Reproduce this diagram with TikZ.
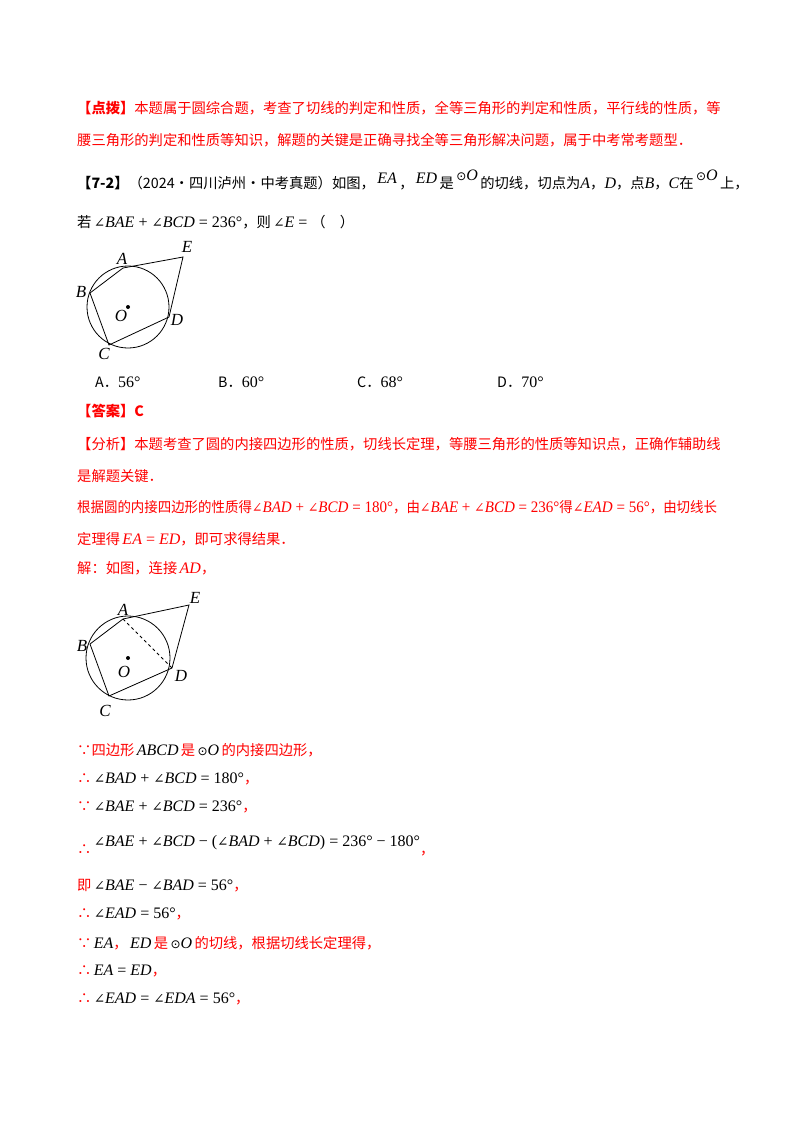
\documentclass[tikz,border=0pt]{standalone}
\usepackage{fontspec}
\usepackage{graphicx}
\setmainfont{Noto Sans CJK SC}
\newfontfamily\tm{Liberation Serif}
\newfontfamily\djv{DejaVu Serif}
\newfontfamily\djs{DejaVu Sans}
\newcommand\ang{{\djv\fontsize{13.5}{13.5}\selectfont ∠}}
\newcommand\mi[1]{{\tm\itshape\fontsize{16}{16}\selectfont #1}}
\newcommand\mr[1]{{\tm\fontsize{16}{16}\selectfont #1}}
\newcommand\circO{{\djs\fontsize{12}{12}\selectfont ⊙}\mi{O}}
\definecolor{rd}{RGB}{255,0,0}
\begin{document}
\begin{tikzpicture}[x=1pt,y=-1pt,
  t/.style={anchor=west,inner sep=0pt,font=\fontsize{14.3}{14.3}\selectfont},
  r/.style={t,text=rd},
  lab/.style={inner sep=0pt,font=\tm\itshape\fontsize{17}{17}\selectfont},
  ln/.style={line width=0.8pt}]
\useasboundingbox (0,0) rectangle (800,1132);
\fill[white] (0,0) rectangle (800,1132);
\node[r] (l1) at (77,108) {\textbf{【点拨】}本题属于圆综合题，考查了切线的判定和性质，全等三角形的判定和性质，平行线的性质，等};
\node[r] (l2) at (77,140) {腰三角形的判定和性质等知识，解题的关键是正确寻找全等三角形解决问题，属于中考常考题型．};
\node[t] (l3) at (77,180) {\textbf{【7-2】}（2024·四川泸州·中考真题）如图，\,\raisebox{5pt}{\mi{EA}}\,，\,\raisebox{5pt}{\mi{ED}}\,是\,\raisebox{8pt}{\circO}\,的切线，切点为\mi{A}，\mi{D}，点\mi{B}，\mi{C}在\,\raisebox{8pt}{\circO}\,上，};
\node[t] (l4) at (77,222) {若\,\ang\mi{BAE}\mr{ + }\ang\mi{BCD}\mr{ = 236°}，则\,\ang\mi{E}\mr{ = }（\quad）};
% figure 1
\begin{scope}
\coordinate (O) at (128,307);
\coordinate (A) at (123,268);
\coordinate (B) at (90,293);
\coordinate (C) at (109,345);
\coordinate (D) at (169,317);
\coordinate (E) at (183,257);
\draw[ln] (O) circle (41);
\fill (O) circle (2);
\draw[ln] (A)--(E)--(D)--(C)--(B)--cycle;
\node[lab] (la) at (122,259) {A};
\node[lab] (le) at (187,247) {E};
\node[lab] (lb) at (81,292) {B};
\node[lab] (lo) at (121,316) {O};
\node[lab] (ld) at (177,320) {D};
\node[lab] (lc) at (104,354) {C};
\end{scope}
\node[t] (o1) at (95,382) {A．\mr{56°}};
\node[t] (o2) at (218,382) {B．\mr{60°}};
\node[t] (o3) at (357,382) {C．\mr{68°}};
\node[t] (o4) at (497,382) {D．\mr{70°}};
\node[r] (ans) at (77,411) {\textbf{【答案】C}};
\node[r] (a1) at (77,444) {【分析】本题考查了圆的内接四边形的性质，切线长定理，等腰三角形的性质等知识点，正确作辅助线};
\node[r] (a2) at (77,476) {是解题关键．};
\node[r] (a3) at (77,507) {\scalebox{0.94}[1]{根据圆的内接四边形的性质得\ang\mi{BAD}\mr{ + }\ang\mi{BCD}\mr{ = 180°}，由\ang\mi{BAE}\mr{ + }\ang\mi{BCD}\mr{ = 236°}得\ang\mi{EAD}\mr{ = 56°}，由切线长}};
\node[r] (a4) at (77,539) {定理得\,\mi{EA}\mr{ = }\mi{ED}，即可求得结果．};
\node[r] (a5) at (77,568) {解：如图，连接\,\mi{AD}，};
% figure 2
\begin{scope}[yshift=-351]
\coordinate (O2) at (128,307);
\coordinate (A2) at (123,268);
\coordinate (B2) at (90,293);
\coordinate (C2) at (109,345);
\coordinate (D2) at (172,317);
\coordinate (E2) at (189,254);
\draw[ln] (O2) circle (42);
\fill (O2) circle (2);
\draw[ln] (A2)--(E2)--(D2)--(C2)--(B2)--cycle;
\draw[ln,dashed] (A2)--(D2);
\node[lab] (la2) at (123,259) {A};
\node[lab] (le2) at (195,247) {E};
\node[lab] (lb2) at (82,295) {B};
\node[lab] (lo2) at (124,321) {O};
\node[lab] (ld2) at (181,325) {D};
\node[lab] (lc2) at (105,360) {C};
\end{scope}
\node[r] (s1) at (77,750) {∵四边形\,\textcolor{black}{\mi{ABCD}}\,是\,\textcolor{black}{\circO}\,的内接四边形，};
\node[r] (s2) at (77,779) {∴\,\textcolor{black}{\ang\mi{BAD}\mr{ + }\ang\mi{BCD}\mr{ = 180°}}，};
\node[r] (s3) at (77,807) {∵\,\textcolor{black}{\ang\mi{BAE}\mr{ + }\ang\mi{BCD}\mr{ = 236°}}，};
\node[r] (s4) at (77,846) {∴\,\raisebox{8pt}{\textcolor{black}{\ang\mi{BAE}\mr{ + }\ang\mi{BCD}\mr{ − (}\ang\mi{BAD}\mr{ + }\ang\mi{BCD}\mr{) = 236° − 180°}}}，};
\node[r] (s5) at (77,886) {即\,\textcolor{black}{\ang\mi{BAE}\mr{ − }\ang\mi{BAD}\mr{ = 56°}}，};
\node[r] (s6) at (77,914) {∴\,\textcolor{black}{\ang\mi{EAD}\mr{ = 56°}}，};
\node[r] (s7) at (77,943) {∵\,\textcolor{black}{\mi{EA}}，\,\textcolor{black}{\mi{ED}}\,是\,\textcolor{black}{\circO}\,的切线，根据切线长定理得，};
\node[r] (s8) at (77,971) {∴\,\textcolor{black}{\mi{EA}\mr{ = }\mi{ED}}，};
\node[r] (s9) at (77,999) {∴\,\textcolor{black}{\ang\mi{EAD}\mr{ = }\ang\mi{EDA}\mr{ = 56°}}，};
\end{tikzpicture}
\end{document}
